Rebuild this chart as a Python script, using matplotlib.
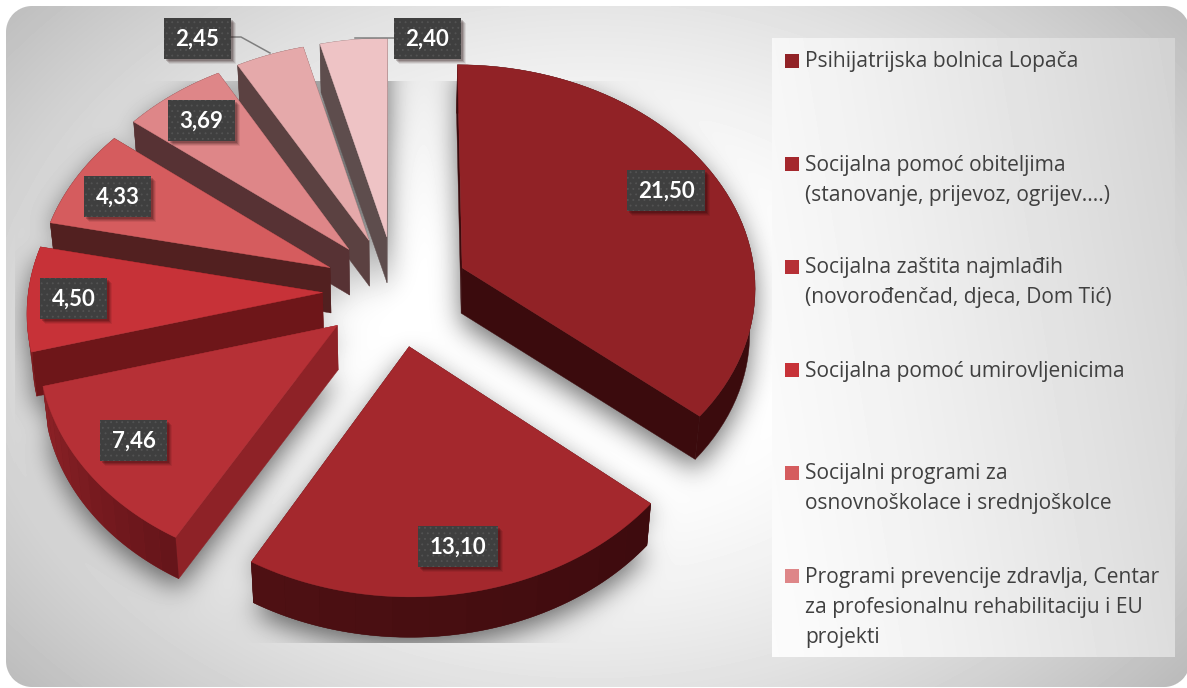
import numpy as np
import matplotlib
matplotlib.use('Agg')
import matplotlib.pyplot as plt
from matplotlib.colors import to_rgb
from matplotlib.patches import Polygon, Rectangle
from matplotlib.path import Path

# chart values, clockwise from 12 o'clock
values = [21.50, 13.10, 7.46, 4.50, 4.33, 3.69, 2.45, 2.40]

legend_entries = [
    ['Psihijatrijska bolnica Lopača'],
    ['Socijalna pomoć obiteljima', '(stanovanje, prijevoz, ogrijev....)'],
    ['Socijalna zaštita najmlađih', '(novorođenčad, djeca, Dom Tić)'],
    ['Socijalna pomoć umirovljenicima'],
    ['Socijalni programi za', 'osnovnoškolace i srednjoškolce'],
    ['Programi prevencije zdravlja, Centar', 'za profesionalnu rehabilitaciju i EU', 'projekti'],
]

# styles
top_colors = ['#912226', '#a4282d', '#b63036', '#c73238', '#d55c5e', '#de8688', '#e5a9aa', '#eec3c5']
radial_colors = ['#3b0b0d', '#4a0f12', '#8e2227', '#6e1619', '#522020', '#573234', '#5b4141', '#5e4d4d']
rim_start = ['#3b0b0d', '#3e0b0e', '#66151a', '#7a1a1d', '#522020', '#573234', '#5b4141', '#5e4d4d']
rim_end = ['#3b0b0d', '#4e1013', '#8c2126', '#8c2126', '#522020', '#573234', '#5b4141', '#5e4d4d']
legend_colors = top_colors[:6]
legend_y = [60, 163, 266, 369, 472, 575]
label_boxes = [(627, 170), (418, 526), (100, 420), (40, 278), (84, 176), (168, 100), (164, 18), (394, 18)]

W, H = 1187, 688
CX, CY = 396, 291
SCALE_X, SCALE_Y, PERSP = 294, 222, 0.0767
EXPLODE = 0.25
DEPTH = 45


def project(x, y):
    w = 1 + PERSP * y
    return CX + SCALE_X * x / w, CY - SCALE_Y * y / w


def drop(sx, sy):
    return CX + (sx - CX) * 0.985, CY + (sy - CY) * 0.985 + DEPTH


def slice_geometry():
    out = []
    bounds = 90 - np.cumsum([0] + values) / np.sum(values) * 360
    for a0, a1 in zip(bounds[:-1], bounds[1:]):
        mid = np.radians((a0 + a1) / 2)
        ox, oy = EXPLODE * np.cos(mid), EXPLODE * np.sin(mid)
        th = np.radians(np.linspace(a0, a1, 61))
        rim = np.array(project(ox + np.cos(th), oy + np.sin(th))).T
        apex = np.array(project(ox, oy))
        out.append((apex, rim))
    return out


def background(slices):
    yy, xx = np.mgrid[0:H, 0:W] + 0.5
    d = np.sqrt(((xx - 590) / 640) ** 2 + ((yy - 340) / 450) ** 2)
    img = np.clip(1.03 - 0.22 * d ** 1.7, 0, 1)

    # blurred pie shadow, cut off at the edges of the chart picture
    pts = np.column_stack([xx.ravel(), yy.ravel()])
    mask = np.zeros(W * H)
    for apex, rim in slices:
        low = np.array(drop(rim[:, 0], rim[:, 1])).T
        mask = np.maximum(mask, Path(np.vstack([apex, rim])).contains_points(pts))
        mask = np.maximum(mask, Path(np.vstack([np.array(drop(*apex)), low])).contains_points(pts))
    mask = mask.reshape(H, W)
    fy = np.fft.fftfreq(H)[:, None]
    fx = np.fft.rfftfreq(W)[None, :]
    sigma = 13
    kernel = np.exp(-2 * (np.pi * sigma) ** 2 * (fx ** 2 + fy ** 2))
    blur = np.fft.irfft2(np.fft.rfft2(mask) * kernel, s=mask.shape)
    blur = np.roll(blur, 10, axis=0)
    inner = (yy > 81) & (yy < 643) & (xx > 15) & (xx < 772)
    img[inner] = (img * (1 - 0.55 * np.clip(blur, 0, 1)))[inner]

    # legend box
    box = (xx > 772) & (xx < 1175) & (yy > 38) & (yy < 657)
    t = ((xx - 772) / 403) * 0.8 + ((657 - yy) / 619) * 0.2
    img[box] = (0.985 - 0.16 * t ** 1.3)[box]

    # rounded panel on white
    x0, y0, x1, y1, r = 6, 6, 1190, 687, 26
    qx = np.abs(xx - (x0 + x1) / 2) - ((x1 - x0) / 2 - r)
    qy = np.abs(yy - (y0 + y1) / 2) - ((y1 - y0) / 2 - r)
    dist = np.hypot(np.maximum(qx, 0), np.maximum(qy, 0)) + np.minimum(np.maximum(qx, qy), 0) - r
    cover = np.clip(0.5 - dist, 0, 1)
    return img * cover + (1 - cover)


def add_label(ax, x, y, text):
    w, h = (78 if text[:2] == '21' else 67), 41
    if text.startswith('13'):
        w = 80
    for i, a in zip((5, 4, 3, 2), (0.08, 0.12, 0.16, 0.2)):
        ax.add_patch(Rectangle((x + i, y + i), w, h, fc='#200808', ec='none', alpha=a, zorder=50))
    ax.add_patch(Rectangle((x, y), w, h, fc='#3f3f3f', ec='#535353', lw=0, hatch='...', zorder=51))
    ax.text(x + w / 2, y + h / 2 + 1, text, color='white', ha='center', va='center',
            fontsize=16, fontweight='bold', zorder=52)


def main():
    plt.rcParams['font.family'] = ['Lato', 'DejaVu Sans']
    plt.rcParams['hatch.linewidth'] = 0.6

    fig = plt.figure(figsize=(W / 100, H / 100), dpi=100)
    ax = fig.add_axes([0, 0, 1, 1])
    ax.set_xlim(0, W)
    ax.set_ylim(H, 0)
    ax.axis('off')

    slices = slice_geometry()
    ax.imshow(background(slices), cmap='gray', vmin=0, vmax=1, extent=(0, W, H, 0),
              interpolation='nearest', aspect='auto', zorder=0)

    # back slices first, top surface of each one last
    order = np.argsort([s[0][1] for s in slices])
    z = 5
    for i in order:
        apex, rim = slices[i]
        low = np.array(drop(rim[:, 0], rim[:, 1])).T

        for q in (rim[0], rim[-1]):
            pts = np.array([apex, q, drop(*q), drop(*apex)])
            ax.add_patch(Polygon(pts, fc=radial_colors[i], ec=radial_colors[i], lw=0.3, zorder=z))
            z += 0.001

        # outer wall in one piece, then colour bands on top of it
        c0, c1 = np.array(to_rgb(rim_start[i])), np.array(to_rgb(rim_end[i]))
        wall = np.vstack([rim, low[::-1]])
        ax.add_patch(Polygon(wall, fc=tuple((c0 + c1) / 2), ec=tuple((c0 + c1) / 2), lw=0.3, zorder=z))
        z += 0.001
        if rim_start[i] != rim_end[i]:
            for k in range(0, 60, 5):
                band = np.vstack([rim[k:k + 6], low[k:k + 6][::-1]])
                c = tuple(c0 + (c1 - c0) * k / 55)
                ax.add_patch(Polygon(band, fc=c, ec='none', lw=0, zorder=z))
                z += 0.001

        ax.add_patch(Polygon(np.vstack([apex, rim]), fc=top_colors[i], ec=top_colors[i], lw=0.3, zorder=z))
        z += 0.01

    # leader lines for the two small slices
    ax.plot([230, 241, 270], [37, 37, 53], color='#7f7f7f', lw=1.1, zorder=40)
    ax.plot([394, 355], [38, 38], color='#7f7f7f', lw=1.1, zorder=40)

    for (x, y), v in zip(label_boxes, values):
        add_label(ax, x, y, '{:.2f}'.format(v).replace('.', ','))

    for lines, c, y in zip(legend_entries, legend_colors, legend_y):
        ax.add_patch(Rectangle((785, y - 6), 14, 14, fc=c, ec='none', zorder=20))
        for n, line in enumerate(lines):
            ax.text(805, y + 2 + n * 30, line, color='#404040', fontsize=15.1, va='center', ha='left',
                    family=['Open Sans', 'DejaVu Sans'], zorder=20)

    fig.savefig('out.png', dpi=100)


if __name__ == '__main__':
    main()
